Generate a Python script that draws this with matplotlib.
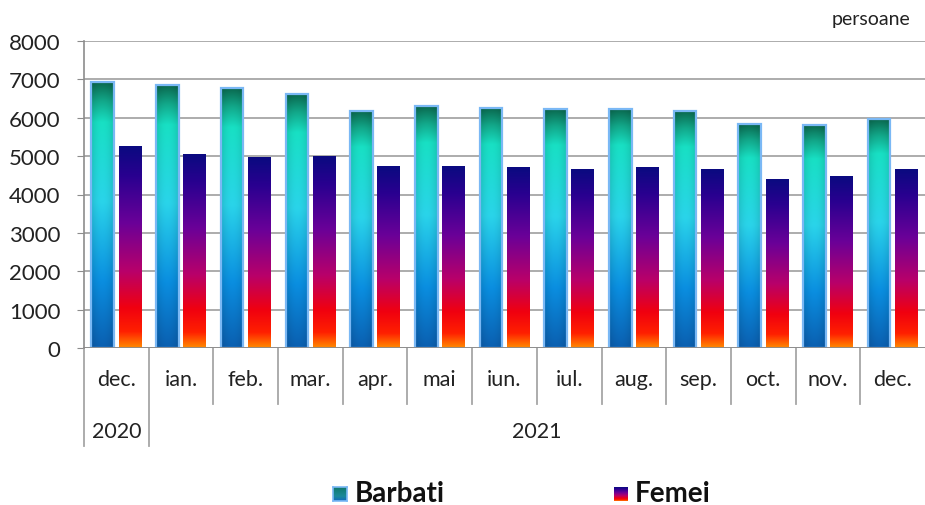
import numpy as np
import matplotlib
matplotlib.use("Agg")
import matplotlib.pyplot as plt
from matplotlib.colors import LinearSegmentedColormap
from matplotlib.patches import Rectangle
import matplotlib.transforms as mtransforms

months = ["dec.", "ian.", "feb.", "mar.", "apr.", "mai", "iun.", "iul.", "aug.", "sep.", "oct.", "nov.", "dec."]
years = ["2020", "2021"]
year_spans = [(0, 0), (1, 12)]
barbati = [6930, 6850, 6770, 6610, 6170, 6300, 6250, 6220, 6220, 6170, 5830, 5810, 5960]
femei = [5260, 5050, 4970, 5000, 4740, 4740, 4710, 4660, 4710, 4640, 4400, 4480, 4660]
series_names = ["Barbati", "Femei"]

plt.rcParams['font.family'] = ['Lato', 'DejaVu Sans']

cmap_b = LinearSegmentedColormap.from_list("b", [
    (0.0, "#0b5fb0"), (0.25, "#0a8ee0"), (0.55, "#2ad4ea"),
    (0.85, "#18e0c4"), (0.93, "#12a88a"), (1.0, "#0a6a50")])
cmap_f = LinearSegmentedColormap.from_list("f", [
    (0.0, "#ff8a00"), (0.08, "#ff2000"), (0.2, "#f00010"), (0.38, "#b8006a"),
    (0.62, "#6a0098"), (0.85, "#2a0090"), (1.0, "#0a0a80")])
cmap_leg_b = LinearSegmentedColormap.from_list("lb", [
    (0.0, "#1268c0"), (0.35, "#1a8a9a"), (1.0, "#10786a")])

W, H = 925, 506
fig = plt.figure(figsize=(W / 100, H / 100), dpi=100)
ax = fig.add_axes([84 / W, 1 - 349 / H, (925 - 84) / W, 307 / H])

ax.set_xlim(-0.5, len(months) - 0.5)
ax.set_ylim(0, 8000)
ax.set_yticks(np.arange(0, 8001, 1000))
ax.yaxis.grid(True, color="#a6a6a6", linewidth=1.3)
ax.set_axisbelow(True)
for s in ["top", "right", "bottom"]:
    ax.spines[s].set_visible(False)
ax.spines["left"].set_color("#8c8c8c")
ax.spines["left"].set_linewidth(1.2)
ax.tick_params(axis="y", length=5, color="#8c8c8c", labelsize=16, pad=12, labelcolor="#222222")
ax.tick_params(axis="x", length=0, labelbottom=False)
ax.axhline(0, color="#8c8c8c", linewidth=1.3, zorder=3)

bw = 0.35
off = 0.21

def shade(cmap, horiz=True):
    v = np.linspace(0, 1, 256)
    img = cmap(v)[:, None, :].repeat(32, axis=1)
    if horiz:
        u = np.linspace(-1, 1, 32)
        f = 1 - 0.12 * u ** 2
        img[:, :, :3] *= f[None, :, None]
    return img

img_b = shade(cmap_b)
img_f = shade(cmap_f, horiz=False)

for i, (b, f) in enumerate(zip(barbati, femei)):
    x0 = i - off - bw / 2
    ax.imshow(img_b, extent=[x0, x0 + bw, 0, b], origin="lower", aspect="auto", zorder=2, interpolation="bilinear")
    ax.add_patch(Rectangle((x0, 0), bw, b, fill=False, edgecolor="#7ab8f5", linewidth=1.6, zorder=2.5))
    x1 = i + off - bw / 2
    ax.imshow(img_f, extent=[x1, x1 + bw, 0, f], origin="lower", aspect="auto", zorder=2, interpolation="bilinear")

ax.set_xlim(-0.5, len(months) - 0.5)
ax.set_ylim(0, 8000)

tr = mtransforms.blended_transform_factory(ax.transData, ax.transAxes)
for i, m in enumerate(months):
    ax.text(i, -0.101, m, transform=tr, ha="center", va="center", fontsize=15.5, color="#222222")
for y, (a, b) in zip(years, year_spans):
    ax.text((a + b) / 2, -0.27, y, transform=tr, ha="center", va="center", fontsize=15.5, color="#222222")
for k in range(len(months) + 1):
    xb = k - 0.5
    if k in (0, 1):
        y_end = -0.319
    elif k == len(months):
        continue
    else:
        y_end = -0.182
    ax.plot([xb, xb], [0, y_end], transform=tr, color="#a6a6a6", linewidth=1.3, clip_on=False)

fig.text(910 / W, 1 - 20 / H, "persoane", ha="right", va="center", fontsize=14, color="#222222")

# legend
def legend_item(px, img, label, tx, border=None):
    lax = fig.add_axes([px / W, 1 - 502 / H, 14 / W, 14 / H])
    lax.imshow(img, origin="lower", aspect="auto", extent=[0, 1, 0, 1])
    lax.set_xticks([])
    lax.set_yticks([])
    for s in lax.spines.values():
        if border:
            s.set_color(border)
            s.set_linewidth(1.2)
        else:
            s.set_visible(False)
    fig.text(tx / W, 1 - 494 / H, label, ha="left", va="center", fontsize=20, fontweight="bold", color="#111111")

legend_item(333, shade(cmap_leg_b, horiz=False), series_names[0], 355, border="#7ab8f5")
legend_item(614, img_f, series_names[1], 635)

fig.savefig("out.png", dpi=100)
